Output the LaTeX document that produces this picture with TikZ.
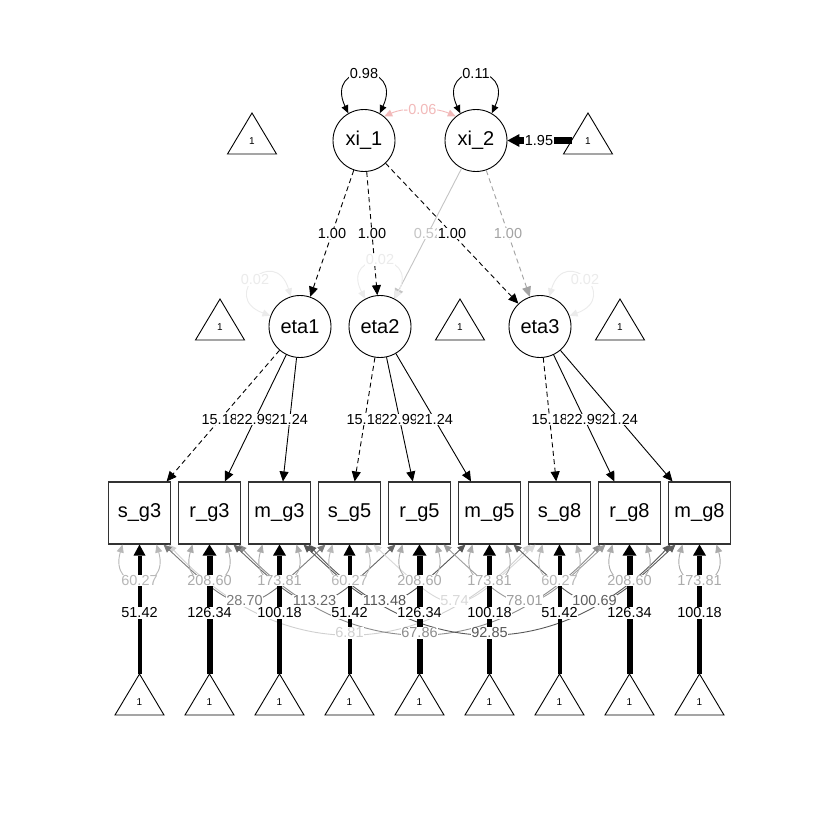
\documentclass[tikz,border=0pt]{standalone}
\usepackage{fontspec}
\setmainfont{Liberation Sans}
\usetikzlibrary{arrows.meta,calc}
\definecolor{pinkc}{HTML}{F2B9B9}
\definecolor{lg}{HTML}{C4C4C4}
\definecolor{mg}{HTML}{A3A3A3}
\definecolor{vlg}{HTML}{EBEBEB}
\definecolor{sl}{HTML}{B8B8B8}
\definecolor{rl}{HTML}{ABABAB}
\definecolor{cA}{HTML}{7A7A7A}
\definecolor{cB}{HTML}{666666}
\definecolor{cC}{HTML}{555555}
\definecolor{cD}{HTML}{D8D8D8}
\definecolor{cE}{HTML}{9C9C9C}
\definecolor{cF}{HTML}{5E5E5E}
\definecolor{cG}{HTML}{D0D0D0}
\definecolor{cH}{HTML}{8C8C8C}
\definecolor{cI}{HTML}{585858}
\tikzset{
  lat/.style={circle, draw=black, line width=0.9pt, minimum size=62pt, inner sep=0pt, font=\fontsize{20}{20}\selectfont},
  man/.style={rectangle, draw=black!80, line width=1.1pt, minimum size=62pt, inner sep=0pt, font=\fontsize{20}{20}\selectfont},
  lab/.style={fill=white, inner sep=0.6pt, font=\fontsize{14.5}{14.5}\selectfont},
  trilab/.style={inner sep=0pt, font=\fontsize{10}{10}\selectfont},
  arr/.style={line width=0.9pt, -{Triangle[length=10pt,width=9pt]}},
  arr2s/.style={line width=0.9pt, {Triangle[length=8pt,width=7pt]}-{Triangle[length=8pt,width=7pt]}},
  dsh/.style={dash pattern=on 5pt off 3.5pt},
}
\newcommand\mytri[3]{%
  \node[trilab] (#1) at (#2,#3) {1};
  \coordinate (#1t) at (#2,#3-28);
  \draw[line width=0.9pt, line join=miter] (#1t) -- ($(#1)+(24.5,13)$) -- ($(#1)+(-24.5,13)$) -- cycle;}
\newcommand\bloop[2]{\draw[arr2s, #2] ($(#1.south)+(-17,0)$) .. controls +(-14,48) and +(14,48) .. ($(#1.south)+(17,0)$);}
\newcommand\covA[3]{\draw[arr2s, #3] ($(#1.south)+(24,0)$) .. controls ($(#1)!0.5!(#2)+(0,107)$) and ($(#1)!0.5!(#2)+(0,107)$) .. ($(#2.south)+(-24,0)$);}
\newcommand\covB[3]{\draw[arr2s, #3] ($(#1.south)+(29,0)$) .. controls ($(#1.south)+(139,119)$) and ($(#2.south)+(-139,119)$) .. ($(#2.south)+(-29,0)$);}
\begin{document}
\begin{tikzpicture}[x=1pt,y=-1pt]
\fill[white] (0,0) rectangle (840,840);
\useasboundingbox (0,0) rectangle (840,840);

% latent nodes
\node[lat] (xi1) at (364,140.5) {xi\_1};
\node[lat] (xi2) at (476,140.5) {xi\_2};
\node[lat] (eta1) at (300,326.5) {eta1};
\node[lat] (eta2) at (380,326.5) {eta2};
\node[lat] (eta3) at (540,326.5) {eta3};

% manifest nodes
\node[man] (s3) at (139.5,513) {s\_g3};
\node[man] (r3) at (209.5,513) {r\_g3};
\node[man] (m3) at (279.5,513) {m\_g3};
\node[man] (s5) at (349.5,513) {s\_g5};
\node[man] (r5) at (419.5,513) {r\_g5};
\node[man] (m5) at (489.5,513) {m\_g5};
\node[man] (s8) at (559.5,513) {s\_g8};
\node[man] (r8) at (629.5,513) {r\_g8};
\node[man] (m8) at (699.5,513) {m\_g8};

% intercept triangles
\mytri{T0}{252}{141}
\mytri{T1}{588}{141}
\mytri{M1}{220}{327}
\mytri{M2}{460}{327}
\mytri{M3}{620}{327}
\mytri{B1}{139.5}{702}
\mytri{B2}{209.5}{702}
\mytri{B3}{279.5}{702}
\mytri{B4}{349.5}{702}
\mytri{B5}{419.5}{702}
\mytri{B6}{489.5}{702}
\mytri{B7}{559.5}{702}
\mytri{B8}{629.5}{702}
\mytri{B9}{699.5}{702}
\coordinate (T1l) at (571.5,140.5);

% top structure
\draw[arr2s, black] (xi1.120) .. controls +(-115:57) and +(-65:57) .. (xi1.60);
\draw[arr2s, black] (xi2.120) .. controls +(-115:57) and +(-65:57) .. (xi2.60);
\draw[arr2s, pinkc] (xi1.50) .. controls (405,107) and (435,107) .. (xi2.130);
\draw[line width=7pt, -{Triangle[length=12pt,width=13pt,line width=0pt]}] (T1l) -- (xi2);

\draw[arr, dsh] (xi1) -- (eta1);
\draw[arr, dsh] (xi1) -- (eta2);
\draw[arr, draw=lg] (xi2) -- (eta2);
\draw[arr, dsh] (xi1) -- (eta3);
\draw[arr, dsh, draw=mg] (xi2) -- (eta3);

\draw[arr2s, vlg] (eta1.107) .. controls +(-107:55) and +(-160:55) .. (eta1.160);
\draw[arr2s, vlg] (eta2.118) .. controls +(-118:55) and +(-62:55) .. (eta2.62);
\draw[arr2s, vlg] (eta3.73) .. controls +(-73:55) and +(-20:55) .. (eta3.20);

% loadings
\draw[arr, dsh] (eta1) -- (s3);
\draw[arr] (eta1) -- (r3);
\draw[arr] (eta1) -- (m3);
\draw[arr, dsh] (eta2) -- (s5);
\draw[arr] (eta2) -- (r5);
\draw[arr] (eta2) -- (m5);
\draw[arr, dsh] (eta3) -- (s8);
\draw[arr] (eta3) -- (r8);
\draw[arr] (eta3) -- (m8);

% residual covariances
\covB{s3}{s8}{cG}
\covB{r3}{r8}{cH}
\covB{m3}{m8}{cI}
\covA{s3}{s5}{cA}
\covA{r3}{r5}{cB}
\covA{m3}{m5}{cC}
\covA{s5}{s8}{cD}
\covA{r5}{r8}{cE}
\covA{m5}{m8}{cF}

% residual variances
\bloop{s3}{sl}
\bloop{r3}{rl}
\bloop{m3}{rl}
\bloop{s5}{sl}
\bloop{r5}{rl}
\bloop{m5}{rl}
\bloop{s8}{sl}
\bloop{r8}{rl}
\bloop{m8}{rl}

% intercepts
\draw[line width=4pt, -{Triangle[length=11pt,width=12pt,line width=0pt]}] (B1t) -- (s3);
\draw[line width=6pt, -{Triangle[length=11pt,width=14pt,line width=0pt]}] (B2t) -- (r3);
\draw[line width=5pt, -{Triangle[length=11pt,width=13pt,line width=0pt]}] (B3t) -- (m3);
\draw[line width=4pt, -{Triangle[length=11pt,width=12pt,line width=0pt]}] (B4t) -- (s5);
\draw[line width=6pt, -{Triangle[length=11pt,width=14pt,line width=0pt]}] (B5t) -- (r5);
\draw[line width=5pt, -{Triangle[length=11pt,width=13pt,line width=0pt]}] (B6t) -- (m5);
\draw[line width=4pt, -{Triangle[length=11pt,width=12pt,line width=0pt]}] (B7t) -- (s8);
\draw[line width=6pt, -{Triangle[length=11pt,width=14pt,line width=0pt]}] (B8t) -- (r8);
\draw[line width=5pt, -{Triangle[length=11pt,width=13pt,line width=0pt]}] (B9t) -- (m8);

% labels top
\node[lab] (l098) at (364,74) {0.98};
\node[lab] (l011) at (476,74) {0.11};
\node[lab, text=pinkc] (lcov) at (420,110) {-0.06};
\node[lab] (l195) at (539,140.5) {1.95};
\node[lab] (la1) at ($(xi1)!0.5!(eta1)$) {1.00};
\node[lab] (la2) at ($(xi1)!0.5!(eta2)$) {1.00};
\node[lab, text=lg] (la3) at ($(xi2)!0.5!(eta2)$) {0.52};
\node[lab] (la4) at ($(xi1)!0.5!(eta3)$) {1.00};
\node[lab, text=mg] (la5) at ($(xi2)!0.5!(eta3)$) {1.00};
\node[lab, text=vlg] (le1) at (255,280) {0.02};
\node[lab, text=vlg] (le2) at (380,260) {0.02};
\node[lab, text=vlg] (le3) at (585,280) {0.02};

% loading labels
\node[lab] (lb1) at ($(eta1)!0.5!(s3)$) {15.18};
\node[lab] (lb2) at ($(eta1)!0.5!(r3)$) {22.99};
\node[lab] (lb3) at ($(eta1)!0.5!(m3)$) {21.24};
\node[lab] (lb4) at ($(eta2)!0.5!(s5)$) {15.18};
\node[lab] (lb5) at ($(eta2)!0.5!(r5)$) {22.99};
\node[lab] (lb6) at ($(eta2)!0.5!(m5)$) {21.24};
\node[lab] (lb7) at ($(eta3)!0.5!(s8)$) {15.18};
\node[lab] (lb8) at ($(eta3)!0.5!(r8)$) {22.99};
\node[lab] (lb9) at ($(eta3)!0.5!(m8)$) {21.24};

% residual variance labels
\node[lab, text=sl] (lv1) at ($(s3.south)+(0,36)$) {60.27};
\node[lab, text=rl] (lv2) at ($(r3.south)+(0,36)$) {208.60};
\node[lab, text=rl] (lv3) at ($(m3.south)+(0,36)$) {173.81};
\node[lab, text=sl] (lv4) at ($(s5.south)+(0,36)$) {60.27};
\node[lab, text=rl] (lv5) at ($(r5.south)+(0,36)$) {208.60};
\node[lab, text=rl] (lv6) at ($(m5.south)+(0,36)$) {173.81};
\node[lab, text=sl] (lv7) at ($(s8.south)+(0,36)$) {60.27};
\node[lab, text=rl] (lv8) at ($(r8.south)+(0,36)$) {208.60};
\node[lab, text=rl] (lv9) at ($(m8.south)+(0,36)$) {173.81};

% covariance labels
\node[lab, text=cA] (lc1) at ($(s3)!0.5!(s5)+(0,88)$) {28.70};
\node[lab, text=cB] (lc2) at ($(r3)!0.5!(r5)+(0,88)$) {113.23};
\node[lab, text=cC] (lc3) at ($(m3)!0.5!(m5)+(0,88)$) {113.48};
\node[lab, text=cD] (lc4) at ($(s5)!0.5!(s8)+(0,88)$) {5.74};
\node[lab, text=cE] (lc5) at ($(r5)!0.5!(r8)+(0,88)$) {78.01};
\node[lab, text=cF] (lc6) at ($(m5)!0.5!(m8)+(0,88)$) {100.69};

% intercept labels
\node[lab] (li1) at ($(s3)+(0,100)$) {51.42};
\node[lab] (li2) at ($(r3)+(0,100)$) {126.34};
\node[lab] (li3) at ($(m3)+(0,100)$) {100.18};
\node[lab] (li4) at ($(s5)+(0,100)$) {51.42};
\node[lab] (li5) at ($(r5)+(0,100)$) {126.34};
\node[lab] (li6) at ($(m5)+(0,100)$) {100.18};
\node[lab] (li7) at ($(s8)+(0,100)$) {51.42};
\node[lab] (li8) at ($(r8)+(0,100)$) {126.34};
\node[lab] (li9) at ($(m8)+(0,100)$) {100.18};

\node[lab, text=cG] (lc7) at ($(s3)!0.5!(s8)+(0,120)$) {6.81};
\node[lab, text=cH] (lc8) at ($(r3)!0.5!(r8)+(0,120)$) {67.86};
\node[lab, text=cI] (lc9) at ($(m3)!0.5!(m8)+(0,120)$) {92.85};
\end{tikzpicture}
\end{document}
